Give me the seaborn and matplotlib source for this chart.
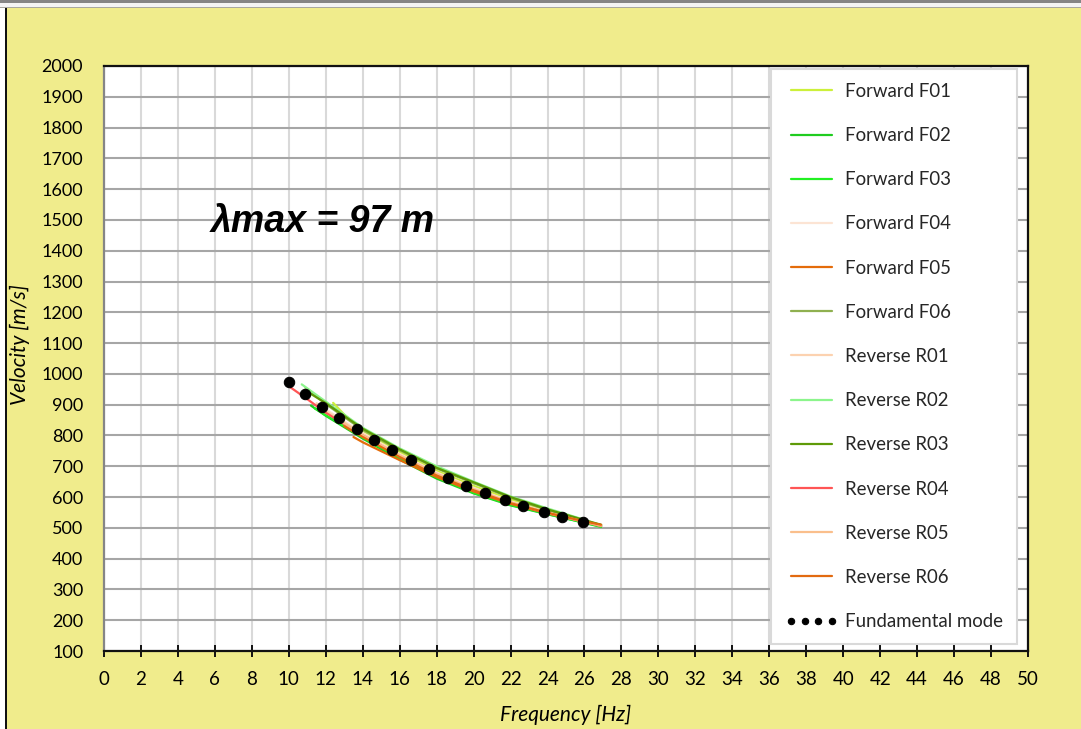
import matplotlib
matplotlib.use("Agg")
import matplotlib.pyplot as plt
from matplotlib.patches import Rectangle
import seaborn as sns
import pandas as pd

# Dispersion curves picked from each shot (frequency in Hz, phase velocity in m/s)
f01_f = [12.4, 13.0, 14.0, 16.0, 18.0, 20.0, 22.0, 24.0, 26.0, 26.9]
f01_v = [906, 868, 815, 745, 685, 636, 592, 555, 521, 507]
f02_f = [11.2, 12.0, 14.0, 16.0, 18.0, 20.0, 22.0, 24.0, 26.0, 26.9]
f02_v = [897, 864, 790, 722, 660, 612, 573, 544, 517, 504]
f03_f = [11.4, 12.0, 14.0, 16.0, 18.0, 20.0, 22.0, 24.0, 26.0, 26.9]
f03_v = [888, 866, 794, 726, 664, 614, 575, 545, 516, 503]
f04_f = [12.0, 14.0, 16.0, 18.0, 20.0, 22.0, 24.0, 26.0, 26.9]
f04_v = [885, 808, 740, 680, 630, 586, 551, 520, 506]
f05_f = [13.5, 14.0, 16.0, 18.0, 20.0, 22.0, 24.0, 26.0, 26.9]
f05_v = [795, 778, 720, 665, 618, 578, 547, 520, 509]
f06_f = [10.9, 12.0, 14.0, 16.0, 18.0, 20.0, 22.0, 24.0, 26.0, 26.9]
f06_v = [955, 902, 818, 752, 693, 645, 598, 558, 523, 508]
r01_f = [11.5, 12.0, 14.0, 16.0, 18.0, 20.0, 22.0, 24.0, 26.0]
r01_v = [905, 880, 805, 738, 677, 628, 584, 550, 519]
r02_f = [10.7, 12.0, 14.0, 16.0, 18.0, 20.0, 22.0, 24.0, 26.0, 26.9]
r02_v = [966, 910, 825, 758, 700, 650, 602, 563, 526, 508]
r03_f = [11.2, 12.0, 14.0, 16.0, 18.0, 20.0, 22.0, 24.0, 26.0, 26.9]
r03_v = [935, 905, 822, 755, 695, 648, 600, 560, 525, 510]
r04_f = [10.0, 11.0, 12.0, 14.0, 16.0, 18.0, 20.0, 22.0, 24.0, 26.0, 26.9]
r04_v = [960, 918, 874, 800, 733, 672, 622, 581, 548, 519, 506]
r05_f = [12.5, 14.0, 16.0, 18.0, 20.0, 22.0, 24.0, 26.0, 26.9]
r05_v = [860, 800, 735, 675, 625, 583, 549, 520, 507]
r06_f = [13.0, 14.0, 16.0, 18.0, 20.0, 22.0, 24.0, 26.0, 26.9]
r06_v = [830, 795, 730, 670, 622, 580, 549, 521, 510]

# Fundamental mode (averaged)
fm_f = [10.0, 10.9, 11.8, 12.7, 13.7, 14.6, 15.6, 16.6, 17.6, 18.6,
        19.6, 20.6, 21.7, 22.7, 23.8, 24.8, 25.9]
fm_v = [975, 935, 893, 857, 820, 785, 752, 720, 691, 662,
        637, 613, 591, 571, 552, 534, 519]

series_names = ["Forward F01", "Forward F02", "Forward F03", "Forward F04",
                "Forward F05", "Forward F06", "Reverse R01", "Reverse R02",
                "Reverse R03", "Reverse R04", "Reverse R05", "Reverse R06"]
series_f = [f01_f, f02_f, f03_f, f04_f, f05_f, f06_f,
            r01_f, r02_f, r03_f, r04_f, r05_f, r06_f]
series_v = [f01_v, f02_v, f03_v, f04_v, f05_v, f06_v,
            r01_v, r02_v, r03_v, r04_v, r05_v, r06_v]
series_colors = ["#ccf03a", "#1fcc1f", "#22f022", "#fce4d4", "#e46c0a", "#8fb050",
                 "#fcd2b0", "#8cf58c", "#5e9a08", "#ff5555", "#fabf8c", "#e26a10"]

x_ticks = list(range(0, 51, 2))
y_ticks = list(range(100, 2001, 100))
lambda_text = "λmax = 97 m"

sns.set_theme(style="white")
plt.rcParams["font.family"] = ["Lato", "DejaVu Sans"]

BG = "#f0ec8c"
fig = plt.figure(figsize=(10.81, 7.29), dpi=100, facecolor=BG)
W, H = 1081, 729

# window frame around the chart
fig.patches.append(Rectangle((0, 0), 5 / W, 1, transform=fig.transFigure,
                             facecolor="white", edgecolor="none", zorder=0))
fig.patches.append(Rectangle((5 / W, 0), 1.8 / W, 1, transform=fig.transFigure,
                             facecolor="#111111", edgecolor="none", zorder=1))
fig.patches.append(Rectangle((0, 1 - 3.3 / H), 1, 3.3 / H, transform=fig.transFigure,
                             facecolor="#858585", edgecolor="none", zorder=1))
fig.patches.append(Rectangle((0, 1 - 6.8 / H), 1, 3.5 / H, transform=fig.transFigure,
                             facecolor="#f4f4f4", edgecolor="none", zorder=1))
fig.patches.append(Rectangle((0, 1 - 8.0 / H), 1, 1.4 / H, transform=fig.transFigure,
                             facecolor="#a8a8a0", edgecolor="none", zorder=1))

ax = fig.add_axes([104 / W, 1 - 651 / H, 924 / W, 585 / H])
ax.set_facecolor("white")

frames = []
for name, fr, vel in zip(series_names, series_f, series_v):
    frames.append(pd.DataFrame({"Frequency": fr, "Velocity": vel, "Series": name}))
curves = pd.concat(frames, ignore_index=True)

sns.lineplot(data=curves, x="Frequency", y="Velocity", hue="Series",
             hue_order=series_names, palette=series_colors, sort=False,
             estimator=None, linewidth=1.6, legend=False, ax=ax, zorder=3)

fund = pd.DataFrame({"Frequency": fm_f, "Velocity": fm_v})
sns.lineplot(data=fund, x="Frequency", y="Velocity", color="black", marker="o",
             linestyle="none", markersize=7.5, markeredgecolor="black",
             estimator=None, sort=False, legend=False, ax=ax, zorder=4)

ax.set_xlim(0, 50)
ax.set_ylim(100, 2000)
ax.set_xticks(x_ticks)
ax.set_yticks(y_ticks)
ax.grid(True, axis="y", color="#a6a6a6", linewidth=1.5, zorder=0)
ax.grid(True, axis="x", color="#d9d9d9", linewidth=1.5, zorder=0)
ax.set_axisbelow(True)

for side in ["top", "right", "bottom"]:
    ax.spines[side].set_color("#111111")
    ax.spines[side].set_linewidth(1.6)
ax.spines["left"].set_color("#868686")
ax.spines["left"].set_linewidth(1.6)

ax.tick_params(axis="x", direction="inout", length=8.5, width=1.4, color="#111111",
               bottom=True, labelsize=13.5, pad=10, labelcolor="black")
ax.tick_params(axis="y", left=False, labelsize=13, pad=9, labelcolor="black")

ax.set_xlabel("Frequency [Hz]", fontsize=15, style="italic", color="black", labelpad=12)
ax.set_ylabel("Velocity [m/s]", fontsize=15, style="italic", color="black")
ax.yaxis.set_label_coords((30 - 104) / 924, (651 - 345) / 585)

ax.text(11.85, 1493, lambda_text, fontsize=27, fontweight="bold", style="italic",
        family=["Liberation Sans", "DejaVu Sans"], ha="center", va="center",
        color="black", zorder=5)

lines = ax.get_lines()
handles = lines[:12] + [lines[12]]
labels = series_names + ["Fundamental mode"]
leg = ax.legend(handles, labels, loc="upper left",
                bbox_to_anchor=((771 - 104) / 924, (651 - 69) / 585),
                borderaxespad=0, frameon=True, fancybox=False, framealpha=1,
                edgecolor="#d9d9d9", facecolor="white", fontsize=13.4,
                handlelength=2.85, handletextpad=0.4, labelspacing=1.46,
                numpoints=4, borderpad=0.75)
leg.get_frame().set_linewidth(1.5)
leg.set_zorder(6)
leg.legend_handles[-1].set_markersize(4.6)

fig.savefig("out.png", dpi=100, facecolor=BG)
